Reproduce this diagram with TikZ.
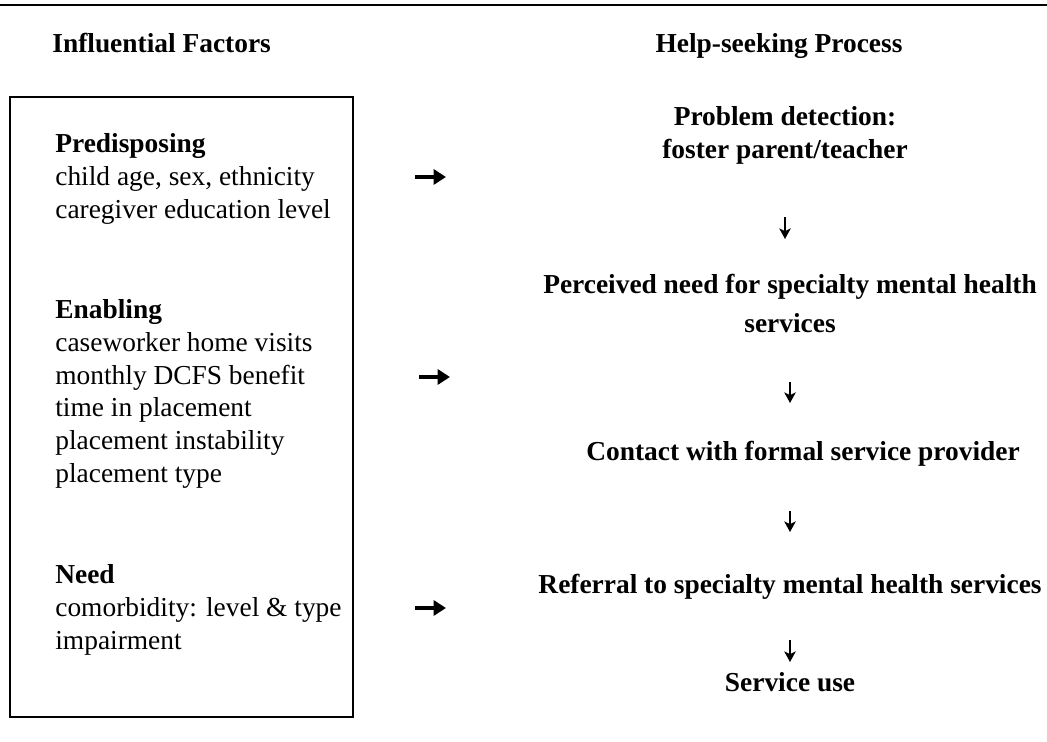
\documentclass[tikz,border=0pt]{standalone}
\usepackage{fontspec}
\setmainfont{Liberation Serif}
\usepackage{tikz}
\usetikzlibrary{arrows.meta,positioning}

\begin{document}
\begin{tikzpicture}[
    x=0.02cm, y=-0.02cm,
    heading/.style={font=\fontsize{15.6}{18.7}\selectfont\bfseries, inner sep=0pt},
    factor/.style={font=\fontsize{15.6}{18.7}\selectfont, align=left,
                   inner sep=0pt, anchor=north west},
    stage/.style={font=\fontsize{15.6}{18.7}\selectfont\bfseries, align=center,
                  inner sep=0pt, anchor=north},
    panel/.style={draw, line width=1.2pt},
    push/.style={-{Triangle[length=7pt,width=8.5pt]}, line width=2.6pt},
    down/.style 2 args={-{Stealth[length=6pt,width=6.5pt,inset=1.5pt]}, line width=1pt,
                        shorten <=#1, shorten >=#2}
]
\useasboundingbox (0,0) rectangle (1047,742);

% Rule across the top
\draw[line width=1.5pt] (0,5) -- (1047,5);

% Column headings
\node[heading, anchor=base west] (inftitle) at (52,53) {Influential Factors};
\node[heading, anchor=base] (helptitle) at (779,53) {Help-seeking Process};

% Left column: factor groups inside one frame
\draw[panel] (10,97) rectangle (353,717);

\node[factor] (predisp) at (55,133) {
    \textbf{Predisposing}\\
    child age, sex, ethnicity\\
    caregiver education level
};

\node[factor] (enabling) at (55,299) {
    \textbf{Enabling}\\
    caseworker home visits\\
    monthly DCFS benefit\\
    time in placement\\
    placement instability\\
    placement type
};

\node[factor] (need) at (55,564) {
    \textbf{Need}\\
    comorbidity: level \& type\\
    impairment
};

% Right column: stages of the process
\node[stage] (detect) at (785,106) {
    Problem detection:\\
    foster parent/teacher
};

\node[stage] (perceive) at (790,274) {
    Perceived need for specialty mental health\\[3.6pt]
    services
};

\node[stage] (contact) at (803,441) {Contact with formal service provider};

\node[stage] (referral) at (790,574) {Referral to specialty mental health services};

\node[stage] (use) at (790,672) {Service use};

% Factors feed the process
\coordinate (pre from) at (415,177);
\coordinate (pre to) at (446,177);
\coordinate (ena from) at (419,377);
\coordinate (ena to) at (450,377);
\coordinate (need from) at (415,608);
\coordinate (need to) at (446,608);
\draw[push] (pre from) -- (pre to);
\draw[push] (ena from) -- (ena to);
\draw[push] (need from) -- (need to);

% Steps down the process
\draw[down={1.06cm}{0.7cm}] (detect.south) -- (detect.south |- perceive.north);
\draw[down={0.98cm}{0.76cm}] (perceive) -- (perceive |- contact.north);
\draw[down={0.88cm}{0.84cm}] (perceive |- contact.south) -- (referral);
\draw[down={0.8cm}{0.2cm}] (referral) -- (use);

\end{tikzpicture}
\end{document}
